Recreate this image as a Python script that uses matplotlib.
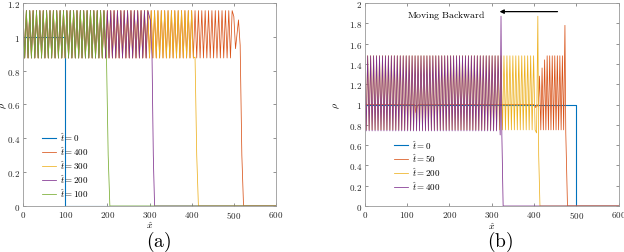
import numpy as np
import matplotlib
matplotlib.use('Agg')
import matplotlib.pyplot as plt
from matplotlib.ticker import FuncFormatter

plt.rcParams['mathtext.fontset'] = 'cm'
plt.rcParams['font.family'] = 'serif'
plt.rcParams['font.serif'] = ['DejaVu Serif']

# MATLAB default line colours
c_blue, c_orange, c_yellow, c_purple, c_green = '#0072BD', '#D95319', '#EDB120', '#7E2F8E', '#77AC30'

# ---- panel (a): oscillating plateau ----
# (start, end, period, high, low) of the oscillating part
a_osc_400 = (0, 496, 8.0, 1.155, 0.875)
a_osc_300 = (0, 404, 8.0, 1.155, 0.875)
a_osc_200 = (0, 298, 8.0, 1.155, 0.875)
a_osc_100 = (0, 194, 8.0, 1.155, 0.875)
# tail of each curve (front)
a_tail_400_x = [500, 504, 511, 515, 519, 523, 600]
a_tail_400_y = [1.12, 0.93, 1.10, 0.95, 0.30, 0.0, 0.0]
a_tail_300_x = [408, 412, 416, 600]
a_tail_300_y = [0.88, 0.3, 0.0, 0.0]
a_tail_200_x = [302, 306, 309, 312, 600]
a_tail_200_y = [1.10, 0.88, 0.3, 0.0, 0.0]
a_tail_100_x = [198, 202, 206, 600]
a_tail_100_y = [0.88, 0.3, 0.0, 0.0]
a_t0_x = [0, 100, 100, 600]
a_t0_y = [1, 1, 0, 0]
a_labels = [r'$\hat{t}=0$', r'$\hat{t}=400$', r'$\hat{t}=300$', r'$\hat{t}=200$', r'$\hat{t}=100$']

# ---- panel (b) ----
b_t0_x = [0, 500, 500, 600]
b_t0_y = [1, 1, 0, 0]
b_flat_50_x = [0, 118, 121, 124, 127, 400, 404, 407, 410]
b_flat_50_y = [1, 1, 0.92, 0.98, 1, 1, 0.97, 1.0, 0.98]
b_osc_50 = (413, 470, 6.0, 1.48, 0.75)
b_osc_50_first_hi = [1.28, 1.36, 1.44]
b_tail_50_x = [473, 475, 479, 600]
b_tail_50_y = [1.78, 0.72, 0.0, 0.0]
b_osc_200 = (0, 404, 7.0, 1.48, 0.75)
b_tail_200_x = [406, 409, 411, 414, 600]
b_tail_200_y = [0.72, 1.87, 0.5, 0.0, 0.0]
b_osc_400 = (0, 318, 7.0, 1.48, 0.74)
b_tail_400_x = [320, 322, 324, 327, 600]
b_tail_400_y = [0.70, 1.87, 0.70, 0.0, 0.0]
b_labels = [r'$\hat{t}=0$', r'$\hat{t}=50$', r'$\hat{t}=200$', r'$\hat{t}=400$']


def zigzag(osc, tail_x, tail_y, first_hi=None):
    x0, x1, per, hi, lo = osc
    xs = np.arange(x0, x1 + 1e-9, per / 2.0)
    ys = np.where(np.arange(len(xs)) % 2 == 0, hi, lo).astype(float)
    if first_hi is not None:
        k = 0
        for i in range(len(ys)):
            if ys[i] == hi and k < len(first_hi):
                ys[i] = first_hi[k]
                k += 1
    return np.concatenate([xs, tail_x]), np.concatenate([ys, tail_y])


fig = plt.figure(figsize=(6.24, 2.53), dpi=100)
axa = fig.add_axes([23 / 624, 46 / 253, 253 / 624, 203 / 253])
axb = fig.add_axes([364.7 / 624, 46 / 253, 254 / 624, 203 / 253])

lw = 0.55
axa.plot(a_t0_x, a_t0_y, color=c_blue, lw=0.8, label=a_labels[0])
x, y = zigzag(a_osc_400, a_tail_400_x, a_tail_400_y)
axa.plot(x, y, color=c_orange, lw=lw, label=a_labels[1])
x, y = zigzag(a_osc_300, a_tail_300_x, a_tail_300_y)
axa.plot(x, y, color=c_yellow, lw=lw, label=a_labels[2])
x, y = zigzag(a_osc_200, a_tail_200_x, a_tail_200_y)
axa.plot(x, y, color=c_purple, lw=lw, label=a_labels[3])
x, y = zigzag(a_osc_100, a_tail_100_x, a_tail_100_y)
axa.plot(x, y, color=c_green, lw=lw, label=a_labels[4])
axa.set_ylim(0, 1.2)
axa.set_yticks(np.arange(0, 1.21, 0.2))

axb.plot(b_t0_x, b_t0_y, color=c_blue, lw=0.8, label=b_labels[0])
x, y = zigzag(b_osc_50, b_tail_50_x, b_tail_50_y, first_hi=b_osc_50_first_hi)
x = np.concatenate([b_flat_50_x, x])
y = np.concatenate([b_flat_50_y, y])
axb.plot(x, y, color=c_orange, lw=lw, label=b_labels[1])
x, y = zigzag(b_osc_200, b_tail_200_x, b_tail_200_y)
axb.plot(x, y, color=c_yellow, lw=lw, label=b_labels[2])
x, y = zigzag(b_osc_400, b_tail_400_x, b_tail_400_y)
axb.plot(x, y, color=c_purple, lw=lw, label=b_labels[3])
axb.set_ylim(0, 2)
axb.set_yticks(np.arange(0, 2.01, 0.2))
axb.text(192, 1.885, r'$\mathrm{Moving\ Backward}$', fontsize=7, ha='center', va='center')
axb.annotate('', xy=(312, 1.915), xytext=(462, 1.915),
             arrowprops=dict(arrowstyle='-|>', color='k', lw=0.9, mutation_scale=6))

fmt = FuncFormatter(lambda v, p: r'$%g$' % round(v, 2))
for ax in (axa, axb):
    ax.set_xlim(0, 600)
    ax.set_xticks(np.arange(0, 601, 100))
    ax.xaxis.set_major_formatter(fmt)
    ax.yaxis.set_major_formatter(fmt)
    ax.tick_params(direction='in', length=2.5, width=0.5, top=True, right=True,
                   labelsize=6.5, pad=2, color='0.4', labelcolor='0.15')
    for s in ax.spines.values():
        s.set_color('0.6')
        s.set_linewidth(0.6)
    ax.set_xlabel(r'$\hat{x}$', fontsize=7)
    ax.set_ylabel(r'$\rho$', fontsize=7, rotation=90)

axa.yaxis.set_label_coords(-0.055, 0.5)
axb.yaxis.set_label_coords(-0.089, 0.5)
axa.xaxis.set_label_coords(0.5, -0.065)
axb.xaxis.set_label_coords(0.5, -0.072)

axa.legend(loc='upper left', bbox_to_anchor=(0.075, 0.37), frameon=False, fontsize=6.5,
           handlelength=1.6, handletextpad=0.4, labelspacing=0.15, borderpad=0, borderaxespad=0)
axb.legend(loc='upper left', bbox_to_anchor=(0.115, 0.335), frameon=False, fontsize=6.5,
           handlelength=1.6, handletextpad=0.4, labelspacing=0.15, borderpad=0, borderaxespad=0)

fig.text(159 / 624, 0.045, r'$\mathrm{(a)}$', fontsize=14, ha='center', va='center')
fig.text(500 / 624, 0.045, r'$\mathrm{(b)}$', fontsize=14, ha='center', va='center')

fig.savefig('out.png', dpi=100)
